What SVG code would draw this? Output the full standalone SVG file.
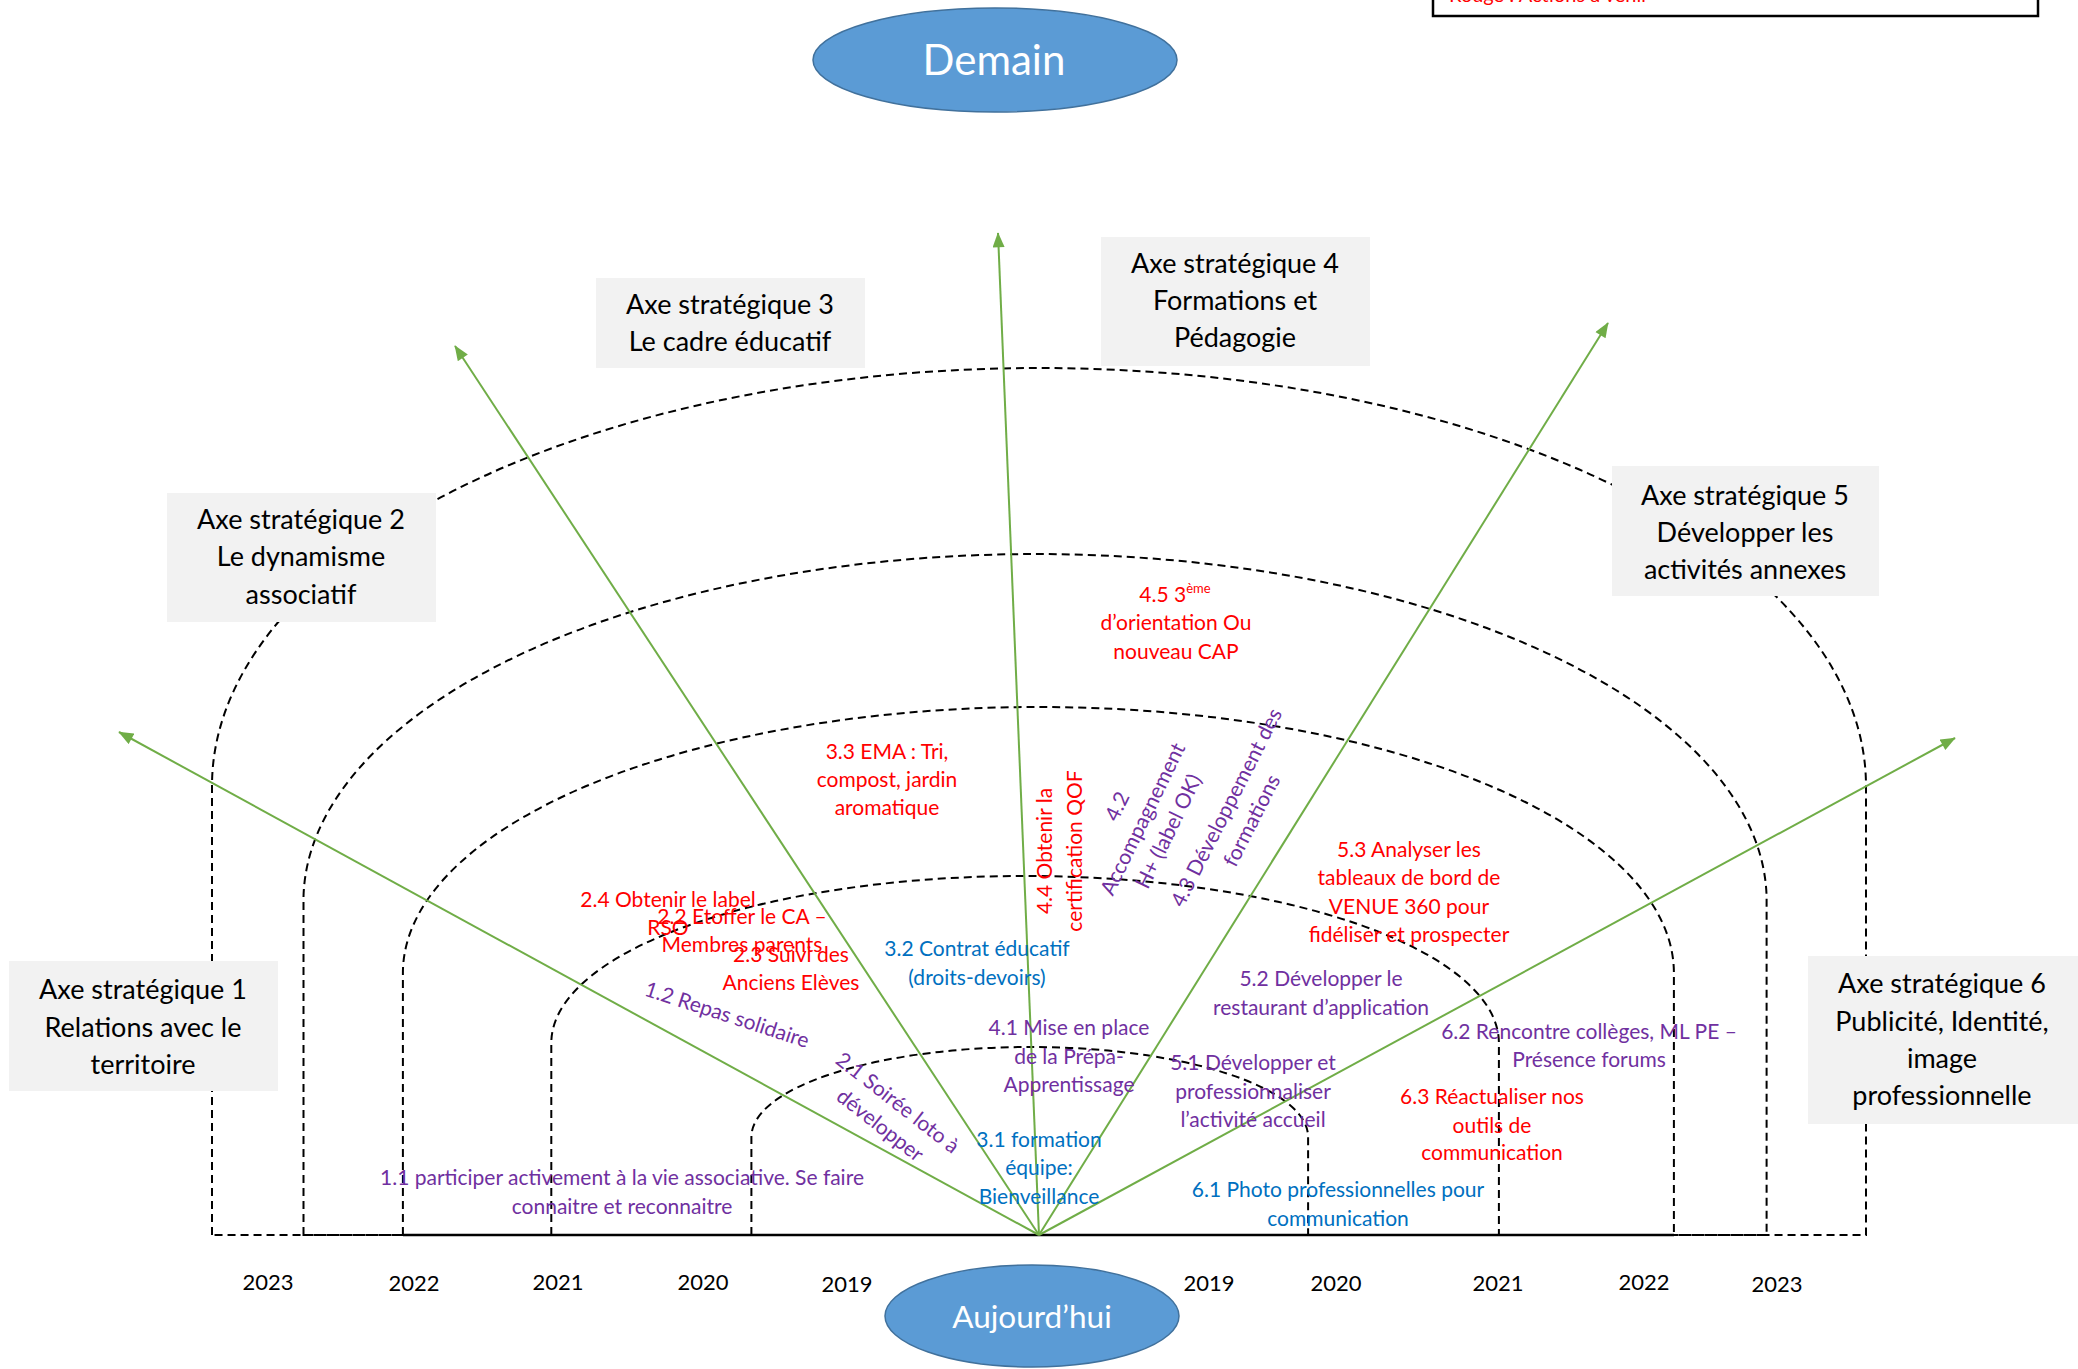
<svg xmlns="http://www.w3.org/2000/svg" width="2078" height="1369" viewBox="0 0 2078 1369">
<style>
text{font-family:Lato,"Liberation Sans",sans-serif}
.box{fill:#F2F2F2}
.bt{font-size:27px;fill:#000;text-anchor:middle}
.t{font-size:21px;text-anchor:middle}
.r{fill:#FF0000}.p{fill:#7030A0}.b{fill:#0070C0}
.arch{fill:none;stroke:#000;stroke-width:2;stroke-dasharray:8 5}
.ax{stroke:#70AD47;stroke-width:2;fill:none;marker-end:url(#ah)}
.yr{font-size:22px;text-anchor:middle;fill:#000}
.ell{fill:#5B9BD5;stroke:#41719C;stroke-width:1.5}
.et{fill:#fff;text-anchor:middle}
</style>
<defs>
<marker id="ah" markerUnits="userSpaceOnUse" markerWidth="16" markerHeight="12" viewBox="0 0 10 8" refX="9.5" refY="4" orient="auto">
<path d="M0,0 L10,4 L0,8 z" fill="#70AD47"/>
</marker>
</defs>
<rect width="2078" height="1369" fill="#fff"/>

<g id="legend">
<rect x="1433" y="-20" width="605" height="36" fill="#fff" stroke="#000" stroke-width="2.5"/>
<text x="1449" y="2" font-size="20" class="r">Rouge : Actions à venir</text>
</g>

<g id="arches">
<path class="arch" d="M212 1235 V786 A827 418 0 0 1 1866 786 V1235 Z"/>
<path class="arch" d="M303.5 1235 V897 A731.6 347 0 0 1 1766.6 897 V1235 Z"/>
<path class="arch" d="M402.9 1235 V973 A635.5 266 0 0 1 1673.9 973 V1235 Z"/>
<path class="arch" d="M551.3 1235 V1043 A473.8 167 0 0 1 1498.9 1043 V1235 Z"/>
<path class="arch" d="M751.4 1235 V1137 A278.3 90 0 0 1 1308.1 1137 V1235 Z"/>
<line x1="403" y1="1235" x2="1674" y2="1235" stroke="#000" stroke-width="2.5"/>
</g>

<g id="connectors">
<line class="ax" x1="1039" y1="1235" x2="119" y2="732"/>
<line class="ax" x1="1039" y1="1235" x2="455" y2="346"/>
<line class="ax" x1="1039" y1="1235" x2="998" y2="233"/>
<line class="ax" x1="1039" y1="1235" x2="1608" y2="323"/>
<line class="ax" x1="1039" y1="1235" x2="1955" y2="738"/>
</g>

<g id="demain">
<ellipse class="ell" cx="995" cy="60" rx="182" ry="52"/>
<text class="et" x="994" y="75" font-size="42">Demain</text>
</g>
<g id="aujourdhui">
<ellipse class="ell" cx="1032" cy="1316" rx="147" ry="51"/>
<text class="et" x="1032" y="1328" font-size="31.5">Aujourd’hui</text>
</g>

<g id="axe1">
<rect class="box" x="9" y="961" width="269" height="130"/>
<text class="bt" x="143" y="999">Axe stratégique 1</text>
<text class="bt" x="143" y="1037">Relations avec le</text>
<text class="bt" x="143" y="1074">territoire</text>
</g>
<g id="axe2">
<rect class="box" x="167" y="493" width="269" height="129"/>
<text class="bt" x="301" y="529">Axe stratégique 2</text>
<text class="bt" x="301" y="566">Le dynamisme</text>
<text class="bt" x="301" y="604">associatif</text>
</g>
<g id="axe3">
<rect class="box" x="596" y="278" width="269" height="90"/>
<text class="bt" x="730" y="314">Axe stratégique 3</text>
<text class="bt" x="730" y="351">Le cadre éducatif</text>
</g>
<g id="axe4">
<rect class="box" x="1101" y="237" width="269" height="129"/>
<text class="bt" x="1235" y="273">Axe stratégique 4</text>
<text class="bt" x="1235" y="310">Formations et</text>
<text class="bt" x="1235" y="347">Pédagogie</text>
</g>
<g id="axe5">
<rect class="box" x="1612" y="466" width="267" height="130"/>
<text class="bt" x="1745" y="505">Axe stratégique 5</text>
<text class="bt" x="1745" y="542">Développer les</text>
<text class="bt" x="1745" y="579">activités annexes</text>
</g>
<g id="axe6">
<rect class="box" x="1808" y="956" width="270" height="168"/>
<text class="bt" x="1942" y="993">Axe stratégique 6</text>
<text class="bt" x="1942" y="1031">Publicité, Identité,</text>
<text class="bt" x="1942" y="1068">image</text>
<text class="bt" x="1942" y="1105">professionnelle</text>
</g>

<g id="years">
<text class="yr" x="268" y="1290">2023</text>
<text class="yr" x="414" y="1291">2022</text>
<text class="yr" x="558" y="1290">2021</text>
<text class="yr" x="703" y="1290">2020</text>
<text class="yr" x="847" y="1292">2019</text>
<text class="yr" x="1209" y="1291">2019</text>
<text class="yr" x="1336" y="1291">2020</text>
<text class="yr" x="1498" y="1291">2021</text>
<text class="yr" x="1644" y="1290">2022</text>
<text class="yr" x="1777" y="1292">2023</text>
</g>

<g id="a45" class="t r">
<text x="1175" y="602">4.5 3<tspan font-size="13" dy="-9">ème</tspan></text>
<text x="1176" y="630">d’orientation Ou</text>
<text x="1176" y="659">nouveau CAP</text>
</g>
<g id="a33" class="t r">
<text x="887" y="759">3.3 EMA : Tri,</text>
<text x="887" y="787">compost, jardin</text>
<text x="887" y="815">aromatique</text>
</g>
<g id="a44" class="t r" transform="translate(1060 851) rotate(-90)">
<text x="0" y="-8">4.4 Obtenir la</text>
<text x="0" y="22">certification QOF</text>
</g>
<g id="a42" class="t p" transform="translate(1143 819) rotate(-64)">
<text x="0" y="-21.5">4.2</text>
<text x="0" y="7">Accompagnement</text>
<text x="0" y="35.5">H+ (label OK)</text>
</g>
<g id="a43" class="t p" transform="translate(1239 814) rotate(-63)">
<text x="0" y="-7">4.3 Développement des</text>
<text x="0" y="21.5">formations</text>
</g>
<g id="a24" class="t r">
<text x="668" y="907">2.4 Obtenir le label</text>
<text x="668" y="935">RSO</text>
</g>
<g id="a22" class="t r">
<text x="742" y="924">2.2 Etoffer le CA –</text>
<text x="742" y="952">Membres parents</text>
</g>
<g id="a23" class="t r">
<text x="791" y="962">2.3 Suivi des</text>
<text x="791" y="990">Anciens Elèves</text>
</g>
<g id="a32" class="t b">
<text x="977" y="956">3.2 Contrat éducatif</text>
<text x="977" y="985">(droits-devoirs)</text>
</g>
<g id="a12" class="t p" transform="translate(727 1015) rotate(18)">
<text x="0" y="7">1.2 Repas solidaire</text>
</g>
<g id="a21" class="t p" transform="translate(889 1114) rotate(38)">
<text x="0" y="-7">2.1 Soirée loto à</text>
<text x="0" y="21.5">développer</text>
</g>
<g id="a41" class="t p">
<text x="1069" y="1035">4.1 Mise en place</text>
<text x="1069" y="1064">de la Prépa-</text>
<text x="1069" y="1092">Apprentissage</text>
</g>
<g id="a51" class="t p">
<text x="1253" y="1070">5.1 Développer et</text>
<text x="1253" y="1099">professionnaliser</text>
<text x="1253" y="1127">l’activité accueil</text>
</g>
<g id="a52" class="t p">
<text x="1321" y="986">5.2 Développer le</text>
<text x="1321" y="1015">restaurant d’application</text>
</g>
<g id="a53" class="t r">
<text x="1409" y="857">5.3 Analyser les</text>
<text x="1409" y="885">tableaux de bord de</text>
<text x="1409" y="914">VENUE 360 pour</text>
<text x="1409" y="942">fidéliser et prospecter</text>
</g>
<g id="a62" class="t p">
<text x="1589" y="1039">6.2 Rencontre collèges, ML PE –</text>
<text x="1589" y="1067">Présence forums</text>
</g>
<g id="a63" class="t r">
<text x="1492" y="1104">6.3 Réactualiser nos</text>
<text x="1492" y="1133">outils de</text>
<text x="1492" y="1160">communication</text>
</g>
<g id="a61" class="t b">
<text x="1338" y="1197">6.1 Photo professionnelles pour</text>
<text x="1338" y="1226">communication</text>
</g>
<g id="a31" class="t b">
<text x="1039" y="1147">3.1 formation</text>
<text x="1039" y="1175">équipe:</text>
<text x="1039" y="1204">Bienveillance</text>
</g>
<g id="a11" class="t p">
<text x="622" y="1185">1.1 participer activement à la vie associative. Se faire</text>
<text x="622" y="1214">connaitre et reconnaitre</text>
</g>
</svg>
